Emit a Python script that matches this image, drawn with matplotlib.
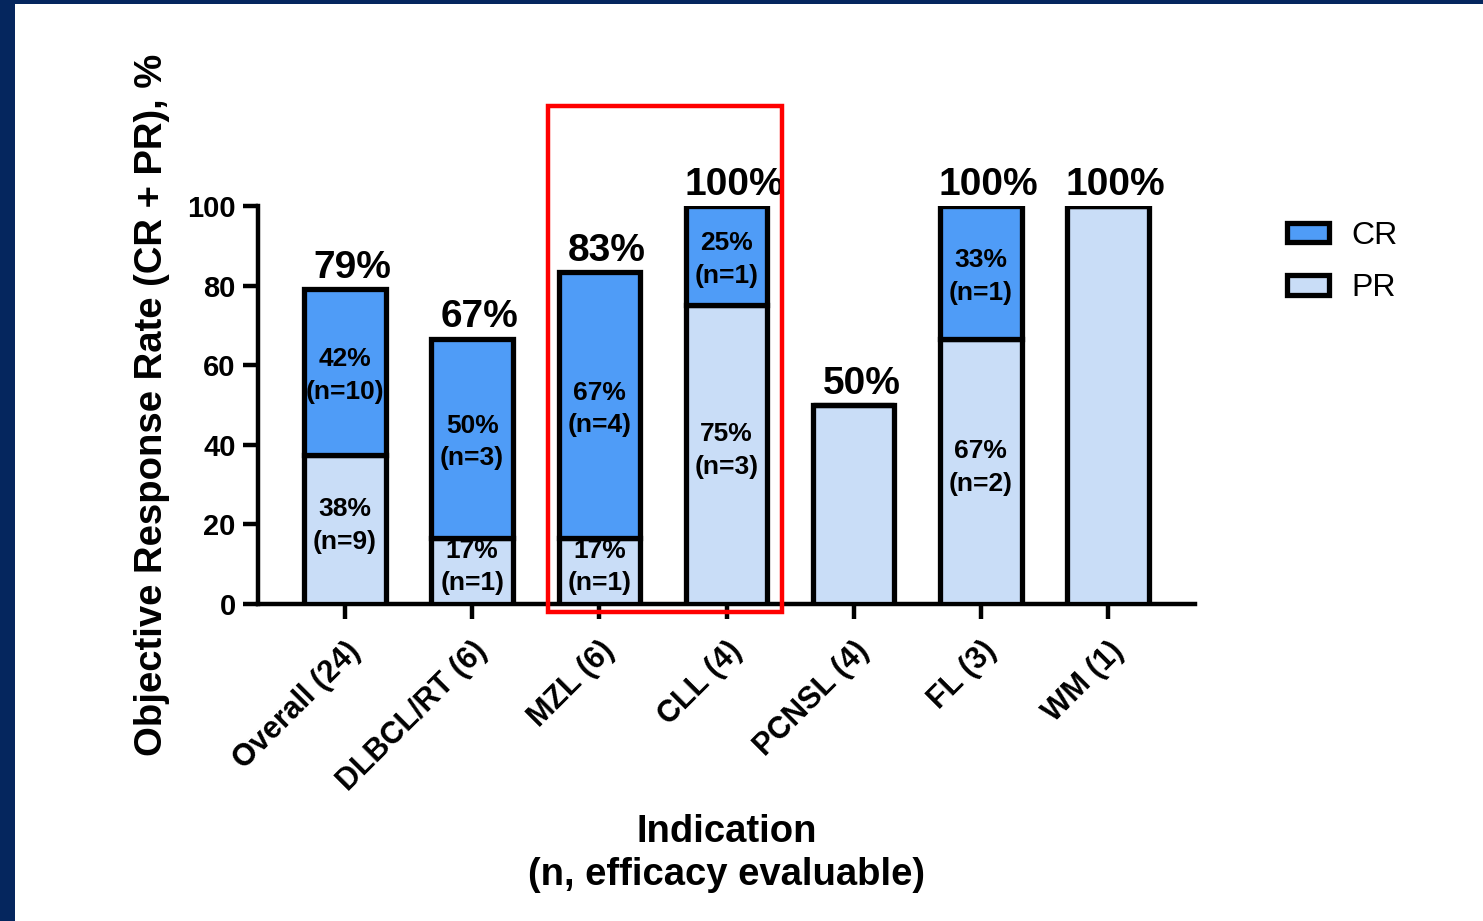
import matplotlib.pyplot as plt
import numpy as np
from matplotlib.patches import Rectangle

plt.rcParams['font.family'] = ['Liberation Sans', 'DejaVu Sans']

categories = ["Overall (24)", "DLBCL/RT (6)", "MZL (6)", "CLL (4)", "PCNSL (4)", "FL (3)", "WM (1)"]
pr_rate = [37.5, 16.7, 16.7, 75.0, 50.0, 66.7, 100.0]
cr_rate = [41.7, 50.0, 66.7, 25.0, 0.0, 33.3, 0.0]
pr_n = [9, 1, 1, 3, 2, 2, 1]
cr_n = [10, 3, 4, 1, 0, 1, 0]
orr_labels = ["79%", "67%", "83%", "100%", "50%", "100%", "100%"]

cr_color = "#4f9cf7"
pr_color = "#c9ddf7"
navy = "#05265e"

x = np.arange(len(categories))
pr = np.array(pr_rate)
cr = np.array(cr_rate)
width = 0.64

fig = plt.figure(figsize=(14.83, 9.21), dpi=100)
fig.patch.set_facecolor(navy)
# white panel inside the navy frame
fig.add_artist(Rectangle((15 / 1483, 0), 1 - 15 / 1483, 1 - 4 / 921,
                         transform=fig.transFigure, facecolor="white",
                         edgecolor="none", zorder=-10))

ax = fig.add_axes([258 / 1483, 1 - 604 / 921, (1195 - 258) / 1483, (604 - 206) / 921])
ax.set_facecolor("white")

ax.bar(x, pr, width, color=pr_color, edgecolor="black", linewidth=3.8, label="PR", zorder=3)
ax.bar(x, cr, width, bottom=pr, color=cr_color, edgecolor="black", linewidth=3.8, label="CR", zorder=3)

for i in range(len(x)):
    total = pr[i] + cr[i]
    ax.text(x[i] + 0.06, total + 2.8, orr_labels[i], ha="center", va="baseline",
            fontsize=28, fontweight="bold", zorder=5)
    if cr[i] > 0 and pr[i] < 100:
        # segment labels only on stacked bars
        ax.text(x[i], pr[i] / 2 + 1, f"{pr[i]:.0f}%\n(n={pr_n[i]})", ha="center", va="center",
                fontsize=19, fontweight="bold", linespacing=1.45, zorder=5)
        ax.text(x[i], pr[i] + cr[i] / 2 - 1, f"{cr[i]:.0f}%\n(n={cr_n[i]})", ha="center", va="center",
                fontsize=19, fontweight="bold", linespacing=1.45, zorder=5)

ax.set_xlim(-0.684, len(x) - 1 + 0.684)
ax.set_ylim(0, 100)
ax.set_yticks([0, 20, 40, 60, 80, 100])
ax.set_xticks(x)
ax.set_xticklabels(categories, rotation=45, ha="right", rotation_mode="anchor",
                   fontsize=22, fontweight="bold")
for lbl in ax.get_yticklabels():
    lbl.set_fontsize(21)
    lbl.set_fontweight("bold")

ax.spines["top"].set_visible(False)
ax.spines["right"].set_visible(False)
ax.spines["left"].set_linewidth(3.2)
ax.spines["bottom"].set_linewidth(3.2)
ax.tick_params(axis="both", direction="out", length=11, width=3.2, pad=5)
ax.tick_params(axis="x", pad=12)

ax.set_ylabel("Objective Response Rate (CR + PR), %", fontsize=27.5, fontweight="bold", labelpad=12)
ax.set_xlabel("Indication\n(n, efficacy evaluable)", fontsize=27.5, fontweight="bold",
              labelpad=12, linespacing=1.25)

# highlight box around the MZL and CLL bars
box_left = x[2] - width / 2 - 0.08
box_right = x[3] + width / 2 + 0.115
ax.add_patch(Rectangle((box_left, -2), box_right - box_left, 127, fill=False,
                       edgecolor="#ff0000", linewidth=3.2, clip_on=False, zorder=6))

handles, labels = ax.get_legend_handles_labels()
leg = ax.legend(handles[::-1], labels[::-1], loc="upper left", bbox_to_anchor=(1.068, 1.035),
                frameon=False, fontsize=23, handlelength=1.3, handleheight=0.55,
                labelspacing=0.7, handletextpad=0.7)

fig.savefig("out.png", dpi=100, facecolor=fig.get_facecolor())
